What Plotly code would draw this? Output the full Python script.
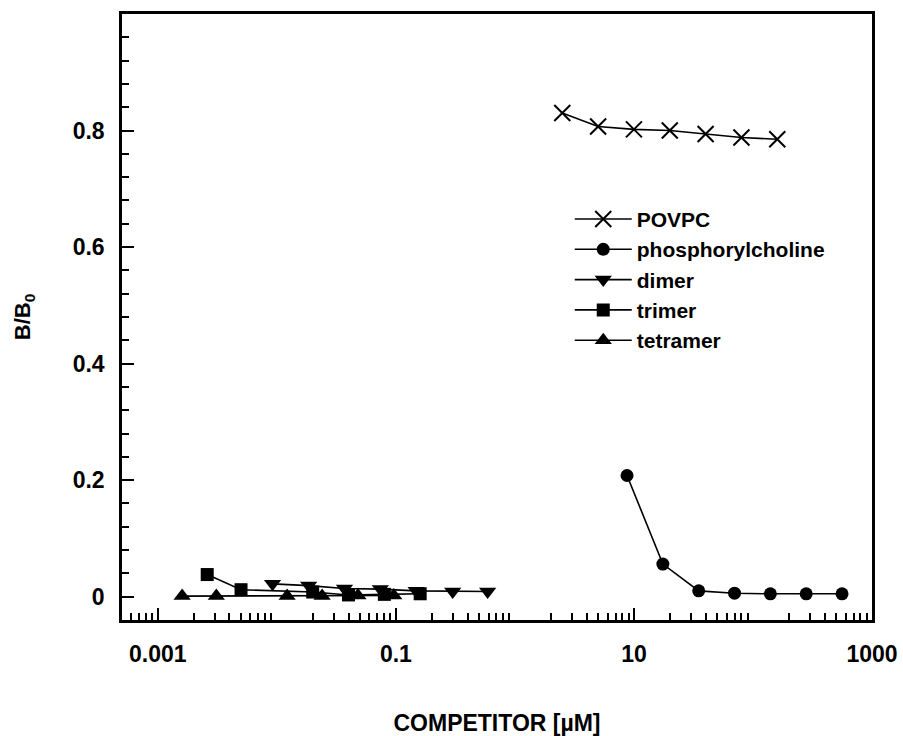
import numpy as np
import plotly.graph_objects as go

# ---- data ----
povpc_x = [2.5, 5, 10, 20, 40, 80, 160]
povpc_y = [0.830, 0.807, 0.802, 0.800, 0.794, 0.788, 0.785]

pc_x = [8.75, 17.5, 35, 70, 140, 280, 560]
pc_y = [0.208, 0.056, 0.010, 0.006, 0.005, 0.005, 0.005]

dimer_x = [0.0092, 0.0185, 0.037, 0.074, 0.148, 0.30, 0.59]
dimer_y = [0.022, 0.019, 0.014, 0.013, 0.010, 0.009, 0.009]

trimer_x = [0.0026, 0.005, 0.02, 0.04, 0.08, 0.16]
trimer_y = [0.038, 0.012, 0.008, 0.003, 0.004, 0.005]

tetramer_x = [0.0016, 0.0031, 0.0122, 0.024, 0.048, 0.096]
tetramer_y = [0.001, 0.001, 0.001, 0.001, 0.002, 0.002]

x_labeled_ticks = [0.001, 0.1, 10, 1000]
x_labeled_text = ["0.001", "0.1", "10", "1000"]
x_unlabeled_ticks = [0.01, 1, 100]
y_tickvals = [0, 0.2, 0.4, 0.6, 0.8]
y_ticktext = ["0", "0.2", "0.4", "0.6", "0.8"]

FONT = "Liberation Sans, Arial, sans-serif"
X_RANGE = [np.log10(0.0005), 3]

fig = go.Figure()

series = [
    ("POVPC", povpc_x, povpc_y, dict(symbol="x-thin", size=16, color="black",
                                      line=dict(width=2, color="black"))),
    ("phosphorylcholine", pc_x, pc_y, dict(symbol="circle", size=13, color="black")),
    ("dimer", dimer_x, dimer_y, dict(symbol="triangle-down", size=15, color="black")),
    ("trimer", trimer_x, trimer_y, dict(symbol="square", size=13, color="black")),
    ("tetramer", tetramer_x, tetramer_y, dict(symbol="triangle-up", size=15, color="black")),
]
for name, xs, ys, mk in series:
    fig.add_trace(go.Scatter(x=xs, y=ys, mode="lines+markers", name=name,
                             line=dict(color="black", width=1.6), marker=mk))

x_minor = [m * 10.0 ** e for e in range(-4, 3) for m in range(2, 10)]
x_minor = [v for v in x_minor if 0.0005 <= v <= 1000]
y_minor = [round(v, 2) for v in np.arange(-0.04, 1.0001, 0.04)]
y_minor = [v for v in y_minor if all(abs(v - t) > 1e-6 for t in y_tickvals)]

tick_font = dict(family=FONT, size=23, color="black", weight="bold")
axis_common = dict(showline=True, linecolor="black", linewidth=2.5, mirror=True,
                   showgrid=False, zeroline=False, ticks="inside", tickcolor="black",
                   tickwidth=2, ticklen=12, tickfont=tick_font)

fig.update_xaxes(type="log", range=X_RANGE, tickmode="array",
                 tickvals=x_labeled_ticks, ticktext=x_labeled_text, ticklabelstandoff=12,
                 minor=dict(tickmode="array", tickvals=x_minor, ticks="inside",
                            ticklen=7, tickwidth=2, tickcolor="black"),
                 title=dict(text="COMPETITOR [µM]", standoff=53,
                            font=dict(family=FONT, size=23, color="black", weight="bold")),
                 **axis_common)
fig.update_yaxes(range=[-0.04, 1.0], tickmode="array", tickvals=y_tickvals,
                 ticktext=y_ticktext, ticklabelstandoff=10,
                 minor=dict(tickmode="array", tickvals=y_minor, ticks="inside",
                            ticklen=7, tickwidth=2, tickcolor="black"),
                 title=dict(text="B/B<sub>0</sub>", standoff=36,
                            font=dict(family=FONT, size=22, color="black", weight="bold")),
                 **axis_common)

# second x axis carrying the unlabeled decade ticks (full-length, no labels)
fig.update_layout(xaxis2=dict(type="log", range=X_RANGE, overlaying="x", side="bottom",
                              anchor="y", showline=False, showgrid=False, zeroline=False,
                              tickmode="array", tickvals=x_unlabeled_ticks,
                              showticklabels=False, ticks="inside", tickcolor="black",
                              tickwidth=2, ticklen=12))

fig.update_layout(
    width=903, height=736,
    margin=dict(l=122, r=31, t=14, b=116, autoexpand=False),
    paper_bgcolor="white", plot_bgcolor="white",
    showlegend=True,
    legend=dict(x=0.597, y=0.695, xanchor="left", yanchor="top",
                bgcolor="rgba(0,0,0,0)", itemwidth=57, tracegroupgap=0,
                font=dict(family=FONT, size=21, color="black", weight="bold")),
)

fig.write_html("out.html")
